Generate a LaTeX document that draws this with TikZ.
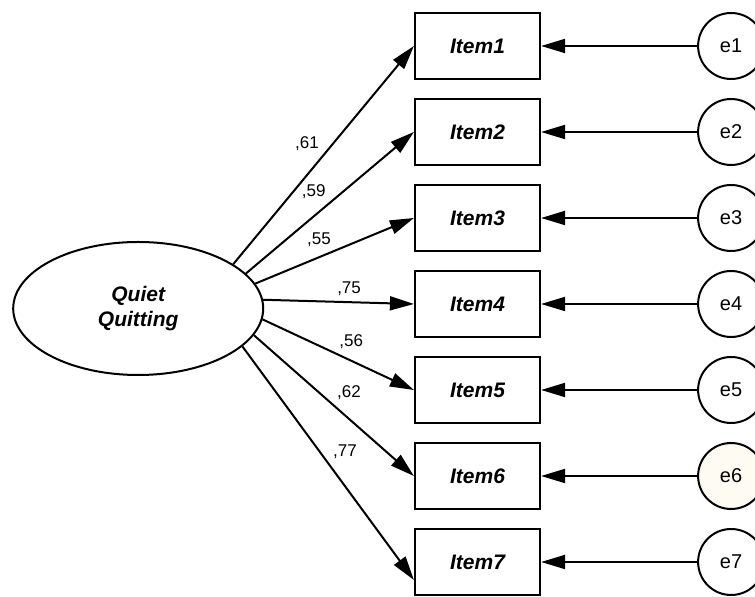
\documentclass[tikz,border=0pt]{standalone}
\usepackage{fontspec}
\setmainfont{Liberation Sans}
\usepackage{xcolor}
\usetikzlibrary{positioning,arrows.meta,shapes.geometric}
\definecolor{errcream}{RGB}{254,251,243}

\begin{document}
\begin{tikzpicture}[
  x=0.5pt, y=-0.5pt,
  node distance=8.9pt,
  latent/.style={draw=black, ellipse, line width=1pt, minimum width=125pt, minimum height=66.5pt, inner sep=0pt, align=center, font=\fontsize{10.5}{12.5}\selectfont\bfseries\itshape},
  item/.style={draw=black, line width=1.1pt, minimum width=62.5pt, minimum height=33pt, inner sep=0pt, fill=white, font=\fontsize{10.5}{12.5}\selectfont\bfseries\itshape},
  err/.style={draw=black, circle, line width=1pt, minimum size=33pt, inner sep=0pt, fill=white, font=\fontsize{10}{11}\selectfont},
  load/.style={inner sep=1pt, font=\fontsize{8.5}{10}\selectfont},
  arrow/.style={-{Triangle[length=12pt, width=7pt]}, draw=black, line width=1pt}
]
\useasboundingbox (0,0) rectangle (755,597);
\node[latent] (qq) at (138.2,308.5) {Quiet\\Quitting};
\node[item] (item1) at (477.5,46) {Item1};
\node[item, below=of item1] (item2) {Item2};
\node[item, below=of item2] (item3) {Item3};
\node[item, below=of item3] (item4) {Item4};
\node[item, below=of item4] (item5) {Item5};
\node[item, below=of item5] (item6) {Item6};
\node[item, below=of item6] (item7) {Item7};
\node[err, right=78pt of item1] (e1) {e1};
\node[err, right=78pt of item2] (e2) {e2};
\node[err, right=78pt of item3] (e3) {e3};
\node[err, right=78pt of item4] (e4) {e4};
\node[err, right=78pt of item5] (e5) {e5};
\node[err, right=78pt of item6, fill=errcream] (e6) {e6};
\node[err, right=78pt of item7] (e7) {e7};
\draw[arrow] (qq.25) -- node[load, pos=.5, above left=1.2pt] (w1) {,61} (item1.west);
\draw[arrow] (qq.18) -- node[load, pos=.5, above left=1pt] (w2) {,59} (item2.west);
\draw[arrow] (qq.12) -- node[load, pos=.5, above left=.6pt] (w3) {,55} (item3.west);
\draw[arrow] (qq.4) -- node[load, pos=.57, above=1.5pt] (w4) {,75} (item4.west);
\draw[arrow] (qq.-5) -- node[load, pos=.48, above right=.8pt] (w5) {,56} (item5.west);
\draw[arrow] (qq.-13) -- node[load, pos=.49, above right=1.3pt] (w6) {,62} (item6.west);
\draw[arrow] (qq.-20) -- node[load, pos=.5, above right=1.4pt] (w7) {,77} ([yshift=-9pt]item7.west);
\draw[arrow] (e1) -- (item1);
\draw[arrow] (e2) -- (item2);
\draw[arrow] (e3) -- (item3);
\draw[arrow] (e4) -- (item4);
\draw[arrow] (e5) -- (item5);
\draw[arrow] (e6) -- (item6);
\draw[arrow] (e7) -- (item7);
\end{tikzpicture}
\end{document}
